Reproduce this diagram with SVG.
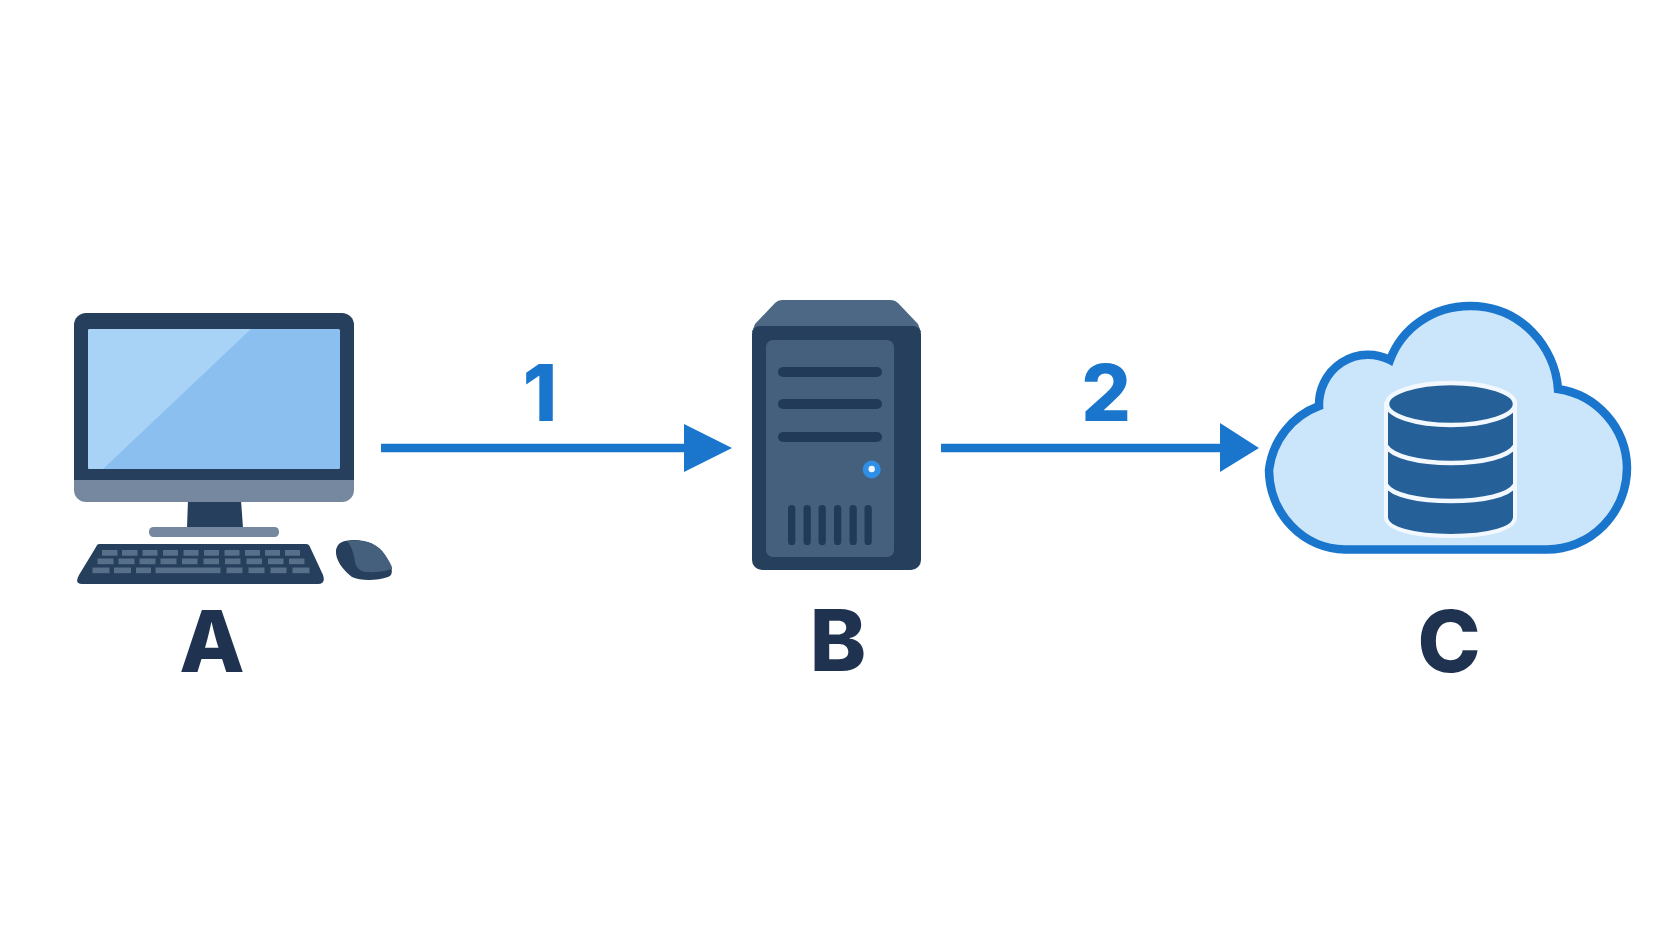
<svg xmlns="http://www.w3.org/2000/svg" width="1672" height="941" viewBox="0 0 1672 941">
<style>
.lbl{font-family:Inter,"Liberation Sans",sans-serif;font-weight:800;text-anchor:middle;font-size:85px;fill:#1f3350}
.num{font-family:Inter,"Liberation Sans",sans-serif;font-weight:800;text-anchor:middle;font-size:78px;fill:#1976cc}
.dark{fill:#263f5c}
.mid{fill:#45607d}
.slot{fill:#213a57}
.key{fill:#586f8a}
.wire{fill:none;stroke:#1976cc;stroke-width:8.5}
.head{fill:#1976cc}
.rim{fill:none;stroke:#f2f8fd;stroke-width:4.5}
</style>
<rect width="1672" height="941" fill="#fff"/>
<g id="node-a">
<path d="M188,500H241L243,528H187Z" class="dark"/>
<rect x="149" y="527" width="130" height="10" rx="4.5" fill="#7588a0"/>
<path d="M74,478H354V490A12,12 0 0 1 342,502H86A12,12 0 0 1 74,490Z" fill="#7588a0"/>
<path d="M86,313H342A12,12 0 0 1 354,325V480H74V325A12,12 0 0 1 86,313Z" class="dark"/>
<rect x="88" y="329" width="252" height="140" rx="1.5" fill="#8bbfef"/>
<path d="M89.500,329H251L103,469H89.500A1.500,1.500 0 0 1 88,467.500V330.500A1.500,1.500 0 0 1 89.500,329Z" fill="#a8d3f6"/>
<path d="M99,544H306Q309,544 310,547L323,575Q326,584 318,584H82Q74,584 79,575L96,547Q97,544 99,544Z" class="dark"/>
<g class="key">
<rect x="102" y="550" width="15.500" height="5.700"/><rect x="122" y="550" width="15.500" height="5.700"/>
<rect x="142.500" y="550" width="15" height="5.700"/><rect x="163" y="550" width="15" height="5.700"/><rect x="183.500" y="550" width="15" height="5.700"/><rect x="204" y="550" width="15" height="5.700"/><rect x="224.500" y="550" width="15" height="5.700"/><rect x="245" y="550" width="15" height="5.700"/><rect x="265" y="550" width="15" height="5.700"/><rect x="285" y="550" width="15" height="5.700"/>
<rect x="97.500" y="558.500" width="16" height="5.700"/><rect x="118.500" y="558.500" width="16" height="5.700"/><rect x="139.500" y="558.500" width="16" height="5.700"/><rect x="160.500" y="558.500" width="16" height="5.700"/><rect x="182" y="558.500" width="15.500" height="5.700"/><rect x="203.500" y="558.500" width="15.500" height="5.700"/><rect x="225" y="558.500" width="15.500" height="5.700"/><rect x="246.500" y="558.500" width="15.500" height="5.700"/><rect x="268" y="558.500" width="15.500" height="5.700"/><rect x="289" y="558.500" width="15.500" height="5.700"/>
<rect x="92.500" y="567.500" width="17" height="5.700"/><rect x="114" y="567.500" width="17" height="5.700"/><rect x="136" y="567.500" width="15" height="5.700"/><rect x="155.500" y="567.500" width="65" height="5.700"/><rect x="226.500" y="567.500" width="16" height="5.700"/><rect x="248.500" y="567.500" width="16" height="5.700"/><rect x="270.500" y="567.500" width="16" height="5.700"/><rect x="292.500" y="567.500" width="17" height="5.700"/>
</g>
<path d="M345,541C360,538 377,542 385,555C393,567 394,575 388,577C377,581 360,581 352,577C343,570 335,560 336,550C337,545 340,542 345,541Z" class="dark"/>
<path d="M347,541C360,539 377,542 385,555C391,564 392.500,567 392,569C382,572 374,572.500 366,572C359,571 356,567 355,562C354,554 352,547 347,541Z" class="mid"/>
</g>
<g id="node-b">
<path d="M782,300H891Q895,300 898,303L918,324L921,332H752L755,324L775,303Q778,300 782,300Z" fill="#4d6885"/>
<path d="M760,326H913A8,8 0 0 1 921,334V560A10,10 0 0 1 911,570H762A10,10 0 0 1 752,560V334A8,8 0 0 1 760,326Z" class="dark"/>
<rect x="766" y="340" width="128" height="217" rx="7" class="mid"/>
<g class="slot">
<rect x="778" y="367" width="104" height="10" rx="5"/><rect x="778" y="399" width="104" height="10" rx="5"/><rect x="778" y="432" width="104" height="10" rx="5"/>
<rect x="788" y="505" width="7.300" height="40" rx="3.600"/><rect x="803.500" y="505" width="7.300" height="40" rx="3.600"/><rect x="818.500" y="505" width="7.300" height="40" rx="3.600"/><rect x="834" y="505" width="7.300" height="40" rx="3.600"/><rect x="849.500" y="505" width="7.300" height="40" rx="3.600"/><rect x="864.500" y="505" width="7.300" height="40" rx="3.600"/>
</g>
<circle cx="871.700" cy="469.500" r="9" fill="#2f8fe6"/>
<circle cx="871.700" cy="469" r="3.200" fill="#eef7ff"/>
</g>
<g id="node-c">
<path d="M1345,549.500H1547A80,82 0 0 0 1627,467.500A81,81 0 0 0 1558,389C1555,348 1522,306 1470,306C1433,306 1402,328 1390,360A49,50 0 0 0 1319,406A77,78 0 0 0 1269,470A77,80 0 0 0 1345,549.500Z" fill="#cbe6fb" stroke="#1976cc" stroke-width="8.500"/>
<path d="M1386,404V517C1386,529 1414,536 1451,536C1488,536 1515,529 1515,517V404Z" fill="#266099" stroke="#f2f8fd" stroke-width="4"/>
<path d="M1386,446C1392,456 1418,463 1451,463C1484,463 1509,456 1515,446" class="rim"/>
<path d="M1386,485C1392,495 1418,501 1451,501C1484,501 1509,495 1515,485" class="rim"/>
<ellipse cx="1451" cy="404" rx="64" ry="21" fill="#266099" stroke="#f2f8fd" stroke-width="4.500"/>
</g>
<g id="connectors">
<g id="edge-1"><path d="M381,448H686" class="wire"/><path d="M684,424L732,448L684,472Z" class="head"/></g>
<g id="edge-2"><path d="M941,448H1222" class="wire"/><path d="M1220,423L1259,448L1220,472Z" class="head"/></g>
<text x="540" y="421" class="num">1</text>
<text x="1106" y="421" class="num">2</text>
</g>
<text x="212" y="672" class="lbl">A</text>
<text x="838" y="671" class="lbl">B</text>
<text x="1449" y="672" class="lbl">C</text>
</svg>
